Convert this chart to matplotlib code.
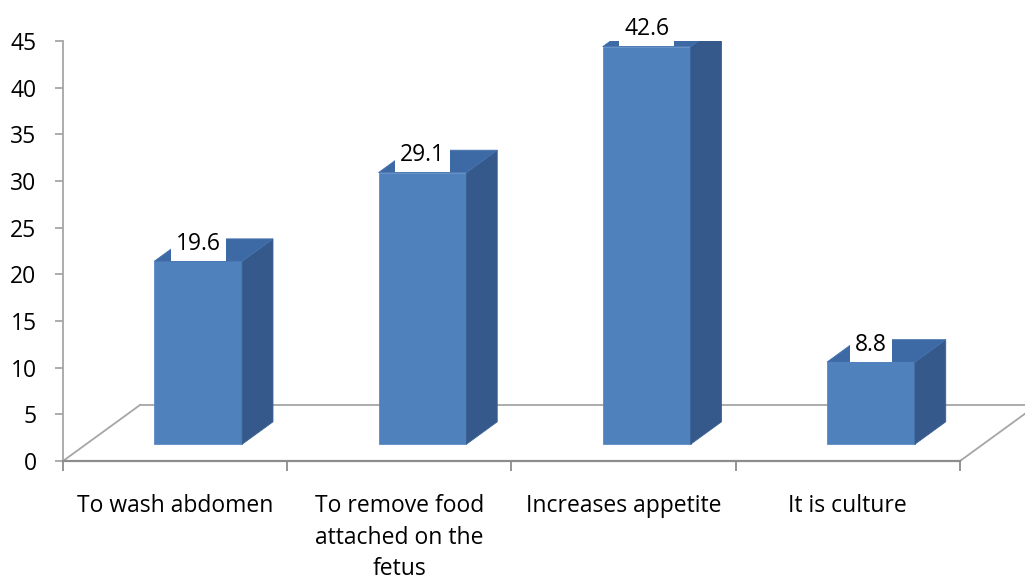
import matplotlib
matplotlib.use("Agg")
import matplotlib.pyplot as plt
from matplotlib.patches import Polygon

categories = ["To wash abdomen", "To remove food\nattached on the\nfetus", "Increases appetite", "It is culture"]
values = [19.6, 29.1, 42.6, 8.8]
yticks = [0, 5, 10, 15, 20, 25, 30, 35, 40, 45]

plt.rcParams['font.family'] = ['Open Sans', 'DejaVu Sans']
FS = 16.5

W, H = 1025, 584
fig = plt.figure(figsize=(W / 100, H / 100), dpi=100)
fig.patch.set_facecolor('white')
# axes frame: x 63..960 px, y 41..461 px
ax = fig.add_axes([63 / W, 1 - 461 / H, (960 - 63) / W, (461 - 41) / H])
ax.set_xlim(-0.5, len(categories) - 0.5)
ax.set_ylim(0, 45)
ax.set_facecolor('none')

# floor depth vector (data units)
DX, DY = 77 / 224.25, 6.0
f_front, f_back = 0.30, 0.70
half_w = 0.196

grey = '#A6A6A6'
n = len(categories)
x0, x1 = -0.5, n - 0.5
ax.plot([x0, x0 + DX], [0, DY], color=grey, lw=1.3, clip_on=False, zorder=1)
ax.plot([x0 + DX, x1 + DX], [DY, DY], color=grey, lw=1.3, clip_on=False, zorder=1)
ax.plot([x1, x1 + DX], [0, DY], color=grey, lw=1.3, clip_on=False, zorder=1)

front_c = '#4F81BD'
side_c = '#35598A'
top_c = '#3D6AA5'
for i, v in enumerate(values):
    ox, oy = f_front * DX, f_front * DY
    dx, dy = (f_back - f_front) * DX, (f_back - f_front) * DY
    xl, xr = i - half_w + ox, i + half_w + ox
    yb, yt = oy, v + oy
    ax.add_patch(Polygon([(xl, yb), (xr, yb), (xr, yt), (xl, yt)], closed=True,
                         facecolor=front_c, edgecolor='#5B8BC4', lw=0.6, zorder=3))
    ax.add_patch(Polygon([(xr, yb), (xr + dx, yb + dy), (xr + dx, yt + dy), (xr, yt)], closed=True,
                         facecolor=side_c, edgecolor='#3A6091', lw=0.6, zorder=3))
    ax.add_patch(Polygon([(xl, yt), (xr, yt), (xr + dx, yt + dy), (xl + dx, yt + dy)], closed=True,
                         facecolor=top_c, edgecolor='#4472AE', lw=0.6, zorder=3))
    ax.text(i + ox, yt + 1.85, f"{v:.1f}", ha='center', va='center', fontsize=FS, color='black',
            zorder=5, bbox=dict(boxstyle='square,pad=0.22', facecolor='white', edgecolor='none'))

for s in ['top', 'right']:
    ax.spines[s].set_visible(False)
ax.spines['left'].set_color(grey)
ax.spines['left'].set_linewidth(1.3)
ax.spines['bottom'].set_color('#8C8C8C')
ax.spines['bottom'].set_linewidth(1.6)

ax.set_yticks(yticks)
ax.set_yticklabels([str(t) for t in yticks], fontsize=FS)
ax.tick_params(axis='y', length=6, width=1.3, color=grey, pad=13)

ax.set_xticks([k - 0.5 for k in range(n + 1)])
ax.set_xticklabels([''] * (n + 1))
ax.tick_params(axis='x', which='major', length=7, width=1.3, color='#8C8C8C')
ax.set_xticks(list(range(n)), minor=True)
ax.set_xticklabels(categories, minor=True, fontsize=FS, linespacing=1.42)
ax.tick_params(axis='x', which='minor', length=0, pad=24)

fig.savefig('out.png', dpi=100, facecolor='white')
